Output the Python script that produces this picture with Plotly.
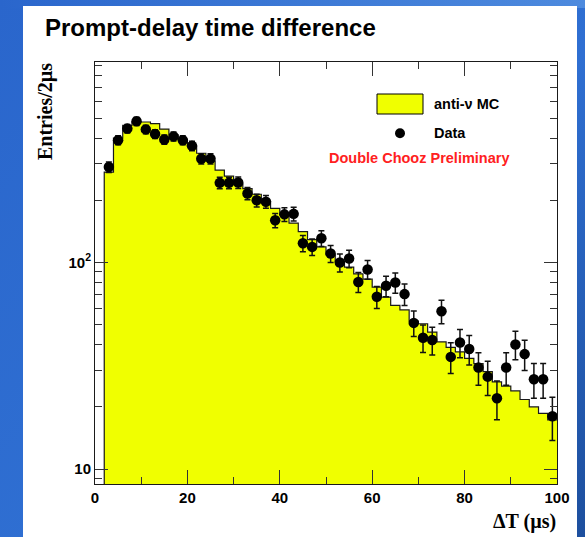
import base64
import numpy as np
import plotly.graph_objects as go

# ---- data ----
bin_edges = np.arange(2, 101, 2)          # 2,4,...,100 (us)
bin_centers = (bin_edges[:-1] + bin_edges[1:]) / 2

mc_counts = [274, 400, 461, 479, 479, 470, 442, 415, 395, 365,
             338, 310, 280, 262, 240, 228, 214, 197, 183, 170,
             155, 141, 129, 119, 109, 101, 95, 88, 83, 76,
             68, 62, 59, 52, 50.5, 46, 41.3, 38.8, 36.9, 34.3,
             32.4, 29.6, 26.4, 25.2, 23.9, 21.7, 20.0, 18.6, 17.3]

data_counts = [290, 391, 445, 483, 441, 419, 394, 408, 391, 367,
               318, 318, 243, 243, 244, 216, 200, 197, 160, 171,
               172, 124, 119, 131, 110.5, 100, 104.5, 80.5, 92.5, 68.2,
               77.1, 80, 70.3, 51, 43.2, 42.1, 58.1, 34.9, 41, 38.1,
               31, 28, 22, 31, 40.1, 36, 27.2, 27.2, 18]

data_err = np.sqrt(np.array(data_counts))

x_tick_vals = [0, 20, 40, 60, 80, 100]
x_minor_vals = [10, 30, 50, 70, 90]
y_tick_vals = [10, 100]
y_tick_text = ["10", "10<sup>2</sup>"]
y_minor_vals = [9, 20, 30, 40, 50, 60, 70, 80, 90, 200, 300, 400, 500, 600, 700, 800, 900]

title_text = "Prompt-delay time difference"
ylabel_text = "Entries/2µs"
xlabel_text = "ΔT (µs)"
legend_mc = "anti-ν MC"
legend_data = "Data"
tag_text = "Double Chooz Preliminary"

# ---- geometry (pixels) ----
W, H = 585, 537
L, R, T, B = 95, 28, 62, 53
PW, PH = W - L - R, H - T - B


def px(xp):
    return (xp - L) / PW


def py(yp):
    return (H - B - yp) / PH


YEL = "#f0ff00"

# slide background: blue gradient with white panel
svg = f'''<svg xmlns="http://www.w3.org/2000/svg" width="{W}" height="{H}" viewBox="0 0 {W} {H}">
<defs><linearGradient id="g" x1="0" y1="0" x2="1" y2="1">
<stop offset="0" stop-color="#2a66cc"/><stop offset="0.55" stop-color="#2f6fd2"/>
<stop offset="1" stop-color="#1d4f9e"/></linearGradient>
<linearGradient id="t" x1="0" y1="0" x2="1" y2="0">
<stop offset="0" stop-color="#2a66cc"/><stop offset="1" stop-color="#4d8ade"/></linearGradient></defs>
<rect x="0" y="0" width="{W}" height="{H}" fill="url(#g)"/>
<rect x="0" y="0" width="{W}" height="8" fill="url(#t)"/>
<rect x="23" y="6" width="554" height="{H}" fill="white"/>
</svg>'''
bg_src = "data:image/svg+xml;base64," + base64.b64encode(svg.encode()).decode()

fig = go.Figure()

# MC histogram fill
fig.add_trace(go.Bar(
    x=bin_centers, y=mc_counts, width=2,
    marker=dict(color=YEL, line=dict(width=0)),
    showlegend=False, hoverinfo="skip"))

# MC histogram outline (step)
step_x = [bin_edges[0]] + list(bin_edges[:-1]) + [bin_edges[-1]]
step_y = [1] + list(mc_counts) + [mc_counts[-1]]
fig.add_trace(go.Scatter(
    x=step_x, y=step_y, mode="lines",
    line=dict(color="#1a1a1a", width=1.2, shape="hv"),
    showlegend=False, hoverinfo="skip"))

# Data points
fig.add_trace(go.Scatter(
    x=bin_centers, y=data_counts, mode="markers",
    marker=dict(color="black", size=10.5, symbol="circle"),
    error_y=dict(type="data", array=data_err, visible=True,
                 color="#111111", thickness=1.5, width=3),
    showlegend=False))

fig.update_layout(
    width=W, height=H,
    margin=dict(l=L, r=R, t=T, b=B, pad=0),
    paper_bgcolor="#2862c4",
    plot_bgcolor="white",
    bargap=0,
    showlegend=False,
    font=dict(family="Liberation Sans, Arial, sans-serif", color="black"),
    images=[dict(source=bg_src, xref="paper", yref="paper",
                 x=px(0), y=py(0), sizex=W / PW, sizey=H / PH,
                 xanchor="left", yanchor="top", sizing="stretch", layer="below")],
)

fig.update_xaxes(
    range=[0, 100], showgrid=False, zeroline=False,
    showline=True, linecolor="#1a1a1a", linewidth=1, mirror="ticks",
    ticks="inside", ticklen=14, tickwidth=1, tickcolor="#333",
    tickmode="array", tickvals=x_tick_vals,
    tickfont=dict(family="Liberation Sans, Arial", size=15, weight="bold"),
    minor=dict(tickmode="array", tickvals=x_minor_vals, ticks="inside",
               ticklen=7, tickwidth=1, tickcolor="#333", showgrid=False),
)

fig.update_yaxes(
    type="log", range=[np.log10(8.46), np.log10(935)],
    showgrid=False, zeroline=False,
    showline=True, linecolor="#1a1a1a", linewidth=1, mirror="ticks",
    ticks="inside", ticklen=13, tickwidth=1, tickcolor="#333",
    tickmode="array", tickvals=y_tick_vals, ticktext=y_tick_text,
    tickfont=dict(family="Liberation Sans, Arial", size=15, weight="bold"),
    minor=dict(tickmode="array", tickvals=y_minor_vals, ticks="inside",
               ticklen=7, tickwidth=1, tickcolor="#333", showgrid=False),
)

shapes = [
    # plot area background (white)
    dict(type="rect", xref="paper", yref="paper", layer="below",
         x0=0, x1=1, y0=0, y1=1, fillcolor="white", line=dict(width=0)),
    # legend swatch
    dict(type="rect", xref="paper", yref="paper",
         x0=px(377), x1=px(423), y0=py(114), y1=py(94),
         fillcolor=YEL, line=dict(color="black", width=1)),
    # legend dot
    dict(type="circle", xref="paper", yref="paper",
         x0=px(395), x1=px(405), y0=py(138.3), y1=py(128.3),
         fillcolor="black", line=dict(color="black", width=0)),
]

annotations = [
    dict(text=title_text, xref="paper", yref="paper", x=px(43), y=py(27),
         xanchor="left", yanchor="middle", showarrow=False,
         font=dict(family="Liberation Sans, Arial", size=24, weight="bold", color="black")),
    dict(text=ylabel_text, xref="paper", yref="paper", x=px(45), y=py(112),
         xanchor="center", yanchor="middle", showarrow=False, textangle=-90,
         font=dict(family="Liberation Serif, Times New Roman, serif", size=20, weight="bold", color="black")),
    dict(text=xlabel_text, xref="paper", yref="paper", x=px(558), y=py(521),
         xanchor="right", yanchor="middle", showarrow=False,
         font=dict(family="Liberation Serif, Times New Roman, serif", size=20, weight="bold", color="black")),
    dict(text=legend_mc, xref="paper", yref="paper", x=px(432), y=py(104),
         xanchor="left", yanchor="middle", showarrow=False,
         font=dict(family="Liberation Sans, Arial", size=14.5, weight="bold", color="black")),
    dict(text=legend_data, xref="paper", yref="paper", x=px(432), y=py(133),
         xanchor="left", yanchor="middle", showarrow=False,
         font=dict(family="Liberation Sans, Arial", size=14.5, weight="bold", color="black")),
    dict(text=tag_text, xref="paper", yref="paper", x=px(419), y=py(158.5),
         xanchor="center", yanchor="middle", showarrow=False,
         font=dict(family="Liberation Sans, Arial", size=14.5, weight="bold", color="#ff2020")),
]

fig.update_layout(shapes=shapes, annotations=annotations)

fig.write_html("out.html")
